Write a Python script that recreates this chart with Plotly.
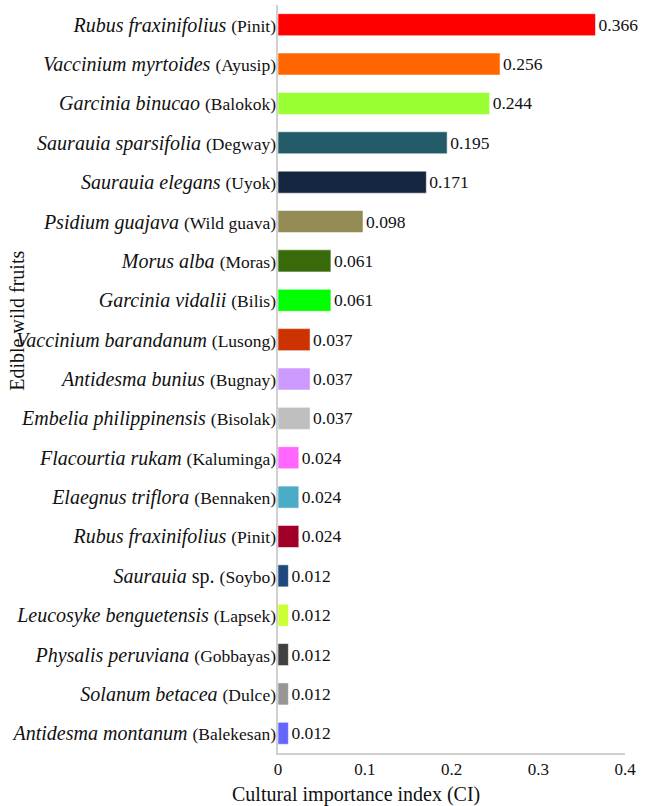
import plotly.graph_objects as go

# species (scientific name), local name, cultural importance index, bar colour
species = [
    "Rubus fraxinifolius", "Vaccinium myrtoides", "Garcinia binucao", "Saurauia sparsifolia",
    "Saurauia elegans", "Psidium guajava", "Morus alba", "Garcinia vidalii",
    "Vaccinium barandanum", "Antidesma bunius", "Embelia philippinensis", "Flacourtia rukam",
    "Elaegnus triflora", "Rubus fraxinifolius", "Saurauia sp.", "Leucosyke benguetensis",
    "Physalis peruviana", "Solanum betacea", "Antidesma montanum",
]
local_names = [
    "Pinit", "Ayusip", "Balokok", "Degway", "Uyok", "Wild guava", "Moras", "Bilis",
    "Lusong", "Bugnay", "Bisolak", "Kaluminga", "Bennaken", "Pinit", "Soybo", "Lapsek",
    "Gobbayas", "Dulce", "Balekesan",
]
ci_values = [
    0.366, 0.256, 0.244, 0.195, 0.171, 0.098, 0.061, 0.061, 0.037, 0.037,
    0.037, 0.024, 0.024, 0.024, 0.012, 0.012, 0.012, 0.012, 0.012,
]
bar_colors = [
    "#FF0000", "#FF6600", "#99FF33", "#235B69", "#14253F", "#948A54", "#386A0A", "#00FF00",
    "#CC3300", "#CC99FF", "#BFBFBF", "#FF66FF", "#4BACC6", "#A00028", "#1F497D", "#CCFF33",
    "#404040", "#969696", "#6666FF",
]

SERIF = "Liberation Serif"


def tick_label(sci, local):
    if sci.endswith(" sp."):
        sci_html = "<i>%s</i> sp." % sci[:-4]
    else:
        sci_html = "<i>%s</i>" % sci
    return '%s <span style="font-size:17.5px">(%s)</span>' % (sci_html, local)


labels = [tick_label(s, l) for s, l in zip(species, local_names)]
positions = list(range(len(species)))

fig = go.Figure()
fig.add_trace(go.Bar(
    x=ci_values,
    y=positions,
    orientation="h",
    marker=dict(color=bar_colors, line=dict(color="rgba(255,255,255,0.55)", width=1)),
    text=["%.3f" % v for v in ci_values],
    textposition="outside",
    textfont=dict(family=SERIF, size=17.5, color="#111111"),
    cliponaxis=False,
    width=0.56,
    hoverinfo="x",
))

fig.update_layout(
    width=647,
    height=806,
    margin=dict(l=278, r=22, t=5, b=53),
    plot_bgcolor="white",
    paper_bgcolor="white",
    font=dict(family=SERIF, color="#111111"),
    showlegend=False,
    xaxis=dict(
        range=[0, 0.4],
        tickvals=[0, 0.1, 0.2, 0.3, 0.4],
        ticktext=["0", "0.1", "0.2", "0.3", "0.4"],
        showgrid=False,
        zeroline=False,
        showline=True,
        linecolor="#D0D0D0",
        linewidth=2,
        ticks="",
        tickfont=dict(family=SERIF, size=17, color="#111111"),
    ),
    yaxis=dict(
        range=[len(species) - 0.5, -0.5],
        tickvals=positions,
        ticktext=labels,
        showgrid=False,
        zeroline=False,
        showline=True,
        linecolor="#D0D0D0",
        linewidth=2,
        ticks="",
        ticklabelstandoff=-4,
        tickfont=dict(family=SERIF, size=20, color="#111111"),
    ),
    annotations=[
        dict(text="Edible wild fruits", textangle=-90, xref="paper", yref="paper",
             x=-0.752, y=0.578, xanchor="center", yanchor="middle",
             showarrow=False, font=dict(family=SERIF, size=20)),
        dict(text="Cultural importance index (CI)", xref="paper", yref="paper",
             x=0.225, y=-0.056, xanchor="center", yanchor="middle",
             showarrow=False, font=dict(family=SERIF, size=20)),
    ],
)

fig.write_html("out.html", config={"displayModeBar": False},
               post_script="document.body.style.margin='0';")
